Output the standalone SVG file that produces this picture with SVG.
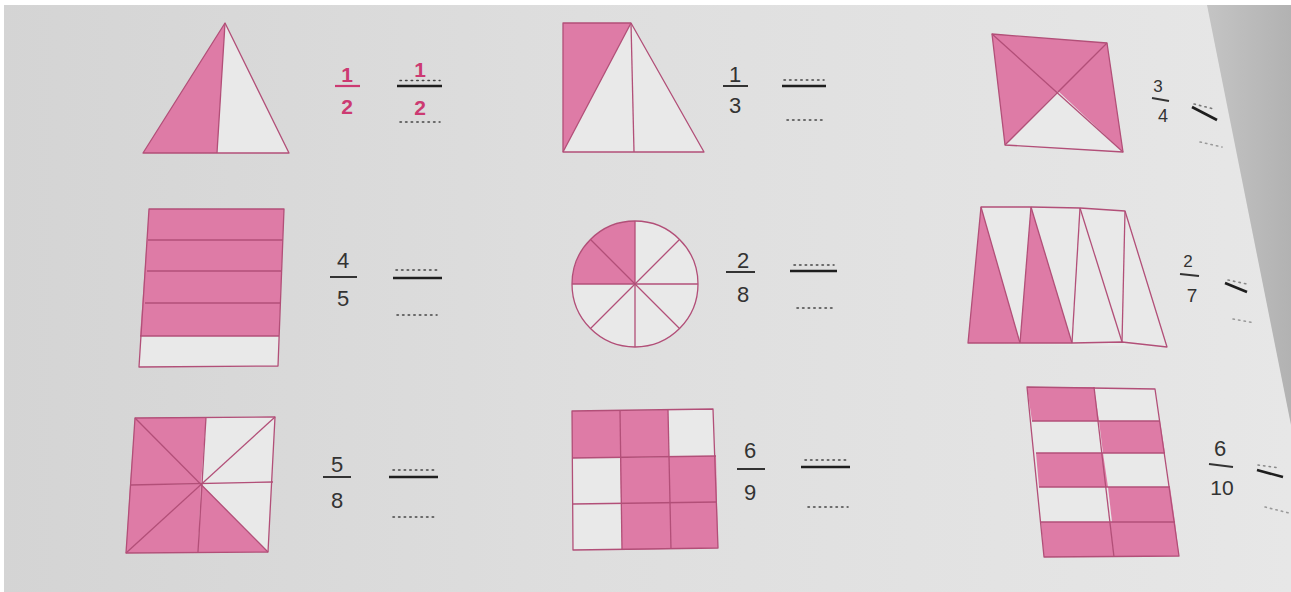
<svg xmlns="http://www.w3.org/2000/svg" width="1291" height="592" viewBox="0 0 1291 592">
<defs>
<linearGradient id="page" x1="0" y1="0" x2="1" y2="0">
<stop offset="0" stop-color="#d4d4d4"/>
<stop offset="0.45" stop-color="#dedede"/>
<stop offset="0.9" stop-color="#e5e5e5"/>
<stop offset="1" stop-color="#e7e7e7"/>
</linearGradient>
<linearGradient id="shadow" x1="0" y1="0" x2="1" y2="0">
<stop offset="0" stop-color="#c4c4c4"/>
<stop offset="1" stop-color="#b2b2b2"/>
</linearGradient>
<style>
.sh{fill:#de7ba6;stroke:none}
.wt{fill:#e9e9e9;stroke:none}
.ln{fill:none;stroke:#b24f78;stroke-width:1.3;stroke-linejoin:round}
.num{font-family:"Liberation Sans",Arial,sans-serif;font-size:22px;fill:#333;text-anchor:middle}
.pk{font-family:"Liberation Sans",Arial,sans-serif;font-size:21px;font-weight:bold;fill:#cc3a72;text-anchor:middle}
.bar{stroke:#333;stroke-width:2}
.bk{stroke:#1e1e1e;stroke-width:2.6}
.pbar{stroke:#cc3a72;stroke-width:2.2}
.dot{stroke:#444;stroke-width:1.6;stroke-dasharray:1.4 4.2;stroke-linecap:round}
</style>
</defs>
<rect x="0" y="0" width="1291" height="592" fill="url(#page)"/>
<polygon points="1207,5 1291,5 1291,425" fill="url(#shadow)"/>
<rect x="0" y="0" width="1291" height="5" fill="#ffffff"/>
<rect x="0" y="0" width="4" height="592" fill="#ffffff"/>

<g id="n1-triangle-half">
<polygon class="wt" points="225,23 143,153 289,153"/>
<polygon class="sh" points="225,23 143,153 217,153"/>
<polygon class="ln" points="225,23 143,153 289,153"/>
<line class="ln" x1="225" y1="23" x2="217" y2="153"/>
</g>
<g id="f1">
<text class="pk" x="347" y="82">1</text>
<line class="pbar" x1="335" y1="86" x2="360" y2="86"/>
<text class="pk" x="347" y="114">2</text>
<line class="dot" x1="400" y1="80.5" x2="440" y2="80.5"/>
<text class="pk" x="420" y="77">1</text>
<line class="bk" x1="397" y1="86" x2="442" y2="86"/>
<text class="pk" x="420" y="115">2</text>
<line class="dot" x1="400" y1="122" x2="440" y2="122"/>
</g>

<g id="n2-triangle-third">
<polygon class="wt" points="563,23 631,23 704,152 563,152"/>
<polygon class="sh" points="563,23 631,23 563,152"/>
<polygon class="ln" points="563,23 631,23 704,152 563,152"/>
<line class="ln" x1="631" y1="23" x2="563" y2="152"/>
<line class="ln" x1="631" y1="23" x2="634" y2="152"/>
</g>
<g id="f2">
<text class="num" x="735" y="82">1</text>
<line class="bar" x1="723" y1="86" x2="748" y2="86"/>
<text class="num" x="735" y="113">3</text>
<line class="dot" x1="784" y1="80" x2="824" y2="80"/>
<line class="bk" x1="782" y1="86" x2="826" y2="86"/>
<line class="dot" x1="787" y1="120" x2="826" y2="120"/>
</g>

<g id="n3-square-quarters">
<polygon class="sh" points="992,34 1107,43 1123,152 1005,145"/>
<polygon class="wt" points="1058,91 1123,152 1005,145"/>
<polygon class="ln" points="992,34 1107,43 1123,152 1005,145"/>
<line class="ln" x1="992" y1="34" x2="1123" y2="152"/>
<line class="ln" x1="1107" y1="43" x2="1005" y2="145"/>
</g>
<g id="f3">
<text class="num" x="1158" y="92" style="font-size:17px">3</text>
<line class="bar" x1="1152" y1="98" x2="1169" y2="101"/>
<text class="num" x="1163" y="122" style="font-size:18px">4</text>
<line class="dot" x1="1194" y1="104" x2="1214" y2="109" style="stroke:#777"/>
<line class="bk" x1="1192" y1="107" x2="1217" y2="120"/>
<line class="dot" x1="1200" y1="142" x2="1222" y2="147" style="stroke:#999"/>
</g>

<g id="n4-rect-fifths">
<polygon class="wt" points="149,209 284,209 278,366 139,367"/>
<polygon class="sh" points="149,209 284,209 279,336 140,336"/>
<polygon class="ln" points="149,209 284,209 278,366 139,367"/>
<line class="ln" x1="148" y1="240" x2="283" y2="240"/>
<line class="ln" x1="147" y1="271" x2="282" y2="271"/>
<line class="ln" x1="145" y1="303" x2="281" y2="303"/>
<line class="ln" x1="140" y1="336" x2="279" y2="336"/>
</g>
<g id="f4">
<text class="num" x="343" y="268">4</text>
<line class="bar" x1="330" y1="277" x2="357" y2="277"/>
<text class="num" x="343" y="306">5</text>
<line class="dot" x1="396" y1="270" x2="437" y2="270"/>
<line class="bk" x1="393" y1="278" x2="442" y2="278"/>
<line class="dot" x1="397" y1="315" x2="437" y2="315"/>
</g>

<g id="n5-circle-eighths">
<circle cx="635" cy="284" r="63" class="wt"/>
<path class="sh" d="M635,284 L635,221 A63,63 0 0 0 572,284 Z"/>
<circle cx="635" cy="284" r="63" class="ln"/>
<line class="ln" x1="635" y1="221" x2="635" y2="347"/>
<line class="ln" x1="572" y1="284" x2="698" y2="284"/>
<line class="ln" x1="590.5" y1="239.5" x2="679.5" y2="328.5"/>
<line class="ln" x1="679.5" y1="239.5" x2="590.5" y2="328.5"/>
</g>
<g id="f5">
<text class="num" x="743" y="268">2</text>
<line class="bar" x1="726" y1="272" x2="755" y2="272"/>
<text class="num" x="743" y="302">8</text>
<line class="dot" x1="794" y1="265" x2="834" y2="265"/>
<line class="bk" x1="790" y1="271" x2="837" y2="271"/>
<line class="dot" x1="797" y1="308" x2="836" y2="308"/>
</g>

<g id="n6-trapezoid-sevenths">
<polygon class="wt" points="981,207 1031,207 1080,208 1125,211 1167,347 968,343"/>
<polygon class="sh" points="981,207 968,343 1020,343"/>
<polygon class="sh" points="1031,207 1020,343 1072,343"/>
<polygon class="ln" points="981,207 1031,207 1080,208 1125,211 1167,347 1122,342 1072,343 1020,343 968,343"/>
<line class="ln" x1="981" y1="207" x2="1020" y2="343"/>
<line class="ln" x1="1031" y1="207" x2="1020" y2="343"/>
<line class="ln" x1="1031" y1="207" x2="1072" y2="343"/>
<line class="ln" x1="1080" y1="208" x2="1072" y2="343"/>
<line class="ln" x1="1080" y1="208" x2="1122" y2="342"/>
<line class="ln" x1="1125" y1="211" x2="1122" y2="342"/>
</g>
<g id="f6">
<text class="num" x="1188" y="267" style="font-size:17px">2</text>
<line class="bar" x1="1180" y1="274" x2="1199" y2="276"/>
<text class="num" x="1192" y="302" style="font-size:19px">7</text>
<line class="dot" x1="1228" y1="280" x2="1247" y2="284" style="stroke:#888"/>
<line class="bk" x1="1225" y1="283" x2="1247" y2="292"/>
<line class="dot" x1="1233" y1="319" x2="1255" y2="323" style="stroke:#999"/>
</g>

<g id="n7-square-eighths">
<polygon class="wt" points="135,418 275,417 268,552 126,553"/>
<polygon class="sh" points="135,418 206,417 201,484 130,485"/>
<polygon class="sh" points="130,485 201,484 198,552 126,553"/>
<polygon class="sh" points="201,484 268,552 198,552"/>
<polygon class="ln" points="135,418 275,417 268,552 126,553"/>
<line class="ln" x1="206" y1="417" x2="198" y2="552"/>
<line class="ln" x1="130" y1="485" x2="273" y2="482"/>
<line class="ln" x1="135" y1="418" x2="268" y2="552"/>
<line class="ln" x1="275" y1="417" x2="126" y2="553"/>
</g>
<g id="f7">
<text class="num" x="337" y="472">5</text>
<line class="bar" x1="323" y1="477" x2="351" y2="477"/>
<text class="num" x="337" y="508">8</text>
<line class="dot" x1="393" y1="470" x2="436" y2="470"/>
<line class="bk" x1="389" y1="477" x2="438" y2="477"/>
<line class="dot" x1="393" y1="517" x2="435" y2="517"/>
</g>

<g id="n8-grid-ninths">
<polygon class="wt" points="572,411 713,409 718,548 573,550"/>
<polygon class="sh" points="572,411 668,410 669,457 572,458"/>
<polygon class="sh" points="620,458 716,456 718,548 622,550"/>
<polygon class="ln" points="572,411 713,409 718,548 573,550"/>
<line class="ln" x1="620" y1="410" x2="622" y2="550"/>
<line class="ln" x1="668" y1="410" x2="671" y2="549"/>
<line class="ln" x1="572" y1="458" x2="716" y2="456"/>
<line class="ln" x1="573" y1="504" x2="717" y2="502"/>
</g>
<g id="f8">
<text class="num" x="750" y="458">6</text>
<line class="bar" x1="737" y1="469" x2="765" y2="469"/>
<text class="num" x="750" y="500">9</text>
<line class="dot" x1="805" y1="460" x2="847" y2="460"/>
<line class="bk" x1="801" y1="467" x2="850" y2="467"/>
<line class="dot" x1="808" y1="507" x2="848" y2="507"/>
</g>

<g id="n9-grid-tenths">
<polygon class="wt" points="1027,387 1155,389 1179,556 1044,557"/>
<polygon class="sh" points="1027,387 1094,387 1099,421 1032,421"/>
<polygon class="sh" points="1099,421 1160,421 1165,453 1103,453"/>
<polygon class="sh" points="1036,453 1103,453 1108,487 1039,487"/>
<polygon class="sh" points="1108,487 1170,487 1175,522 1112,522"/>
<polygon class="sh" points="1041,522 1175,522 1179,556 1044,557"/>
<polygon class="ln" points="1027,387 1155,389 1179,556 1044,557"/>
<line class="ln" x1="1094" y1="387" x2="1114" y2="557"/>
<line class="ln" x1="1032" y1="421" x2="1160" y2="421"/>
<line class="ln" x1="1036" y1="453" x2="1165" y2="453"/>
<line class="ln" x1="1039" y1="487" x2="1170" y2="487"/>
<line class="ln" x1="1041" y1="522" x2="1175" y2="522"/>
</g>
<g id="f9">
<text class="num" x="1220" y="456">6</text>
<line class="bar" x1="1209" y1="464" x2="1233" y2="467"/>
<text class="num" x="1222" y="495" style="font-size:21px">10</text>
<line class="dot" x1="1258" y1="465" x2="1280" y2="468" style="stroke:#888"/>
<line class="bk" x1="1257" y1="470" x2="1283" y2="477"/>
<line class="dot" x1="1265" y1="507" x2="1289" y2="513" style="stroke:#999"/>
</g>
</svg>
